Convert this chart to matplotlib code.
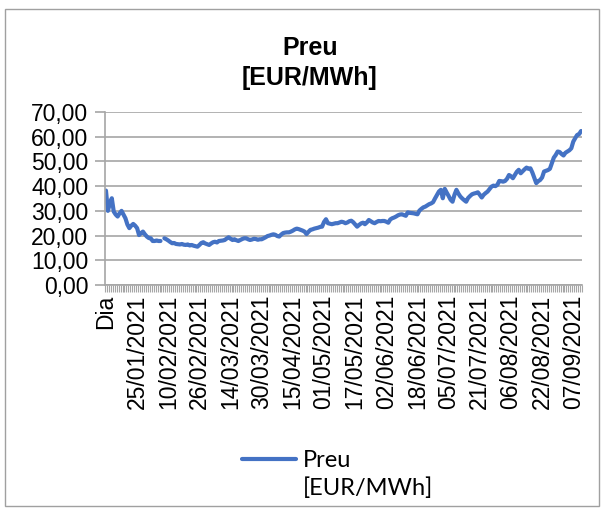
import matplotlib
matplotlib.use("Agg")
import matplotlib.pyplot as plt
from matplotlib.lines import Line2D
from matplotlib.patches import Rectangle
from matplotlib.ticker import FuncFormatter, FixedLocator
import numpy as np
import pandas as pd

# categories: header cell "Dia" followed by daily dates (one day missing in late June)
dates = pd.date_range("2021-01-10", "2021-09-11", freq="D")
dates = dates[dates != pd.Timestamp("2021-06-27")]
categories = ["Dia"] + [d.strftime("%d/%m/%Y") for d in dates]

# daily price [EUR/MWh] (nan = missing day)
preu = [
    38.2, 30.0, 33.0, 35.1, 29.7, 28.5, 27.7, 29.0, 30.0, 28.5,
    27.0, 24.5, 23.0, 24.0, 24.7, 24.0, 23.0, 20.2, 21.0, 21.6,
    20.5, 19.6, 19.0, 18.9, 17.8, 17.8, 18.0, 17.8, 17.8, np.nan,
    18.9, 18.5, 18.0, 17.4, 16.9, 17.0, 16.6, 16.5, 16.4, 16.6,
    16.3, 16.2, 16.4, 16.0, 16.2, 15.9, 15.7, 15.5, 16.2, 17.0,
    17.3, 16.8, 16.5, 16.2, 16.8, 17.3, 17.5, 17.2, 17.8, 17.9,
    18.0, 18.2, 18.8, 19.3, 18.7, 18.2, 18.5, 18.1, 17.8, 18.2,
    18.6, 18.9, 18.9, 18.5, 18.2, 18.4, 18.7, 18.6, 18.3, 18.5,
    18.5, 18.9, 19.3, 19.8, 20.0, 20.3, 20.5, 20.3, 19.8, 19.6,
    20.4, 21.0, 21.2, 21.3, 21.3, 21.6, 22.0, 22.5, 22.8, 22.6,
    22.3, 22.0, 21.6, 20.6, 21.5, 22.3, 22.5, 22.8, 23.0, 23.2,
    23.5, 23.6, 25.5, 26.6, 25.0, 24.8, 24.6, 24.8, 25.0, 25.0,
    25.3, 25.6, 25.4, 25.0, 25.3, 25.8, 26.0, 25.4, 24.5, 23.6,
    24.3, 24.9, 25.2, 24.6, 25.3, 26.3, 25.8, 25.3, 25.0, 25.5,
    25.9, 25.8, 25.9, 25.9, 25.6, 25.2, 26.5, 27.0, 27.3, 27.7,
    28.2, 28.5, 28.6, 28.3, 28.0, 29.4, 29.2, 29.1, 29.0, 28.8,
    28.6, 30.1, 30.8, 31.4, 31.7, 32.2, 32.7, 33.0, 33.5, 35.0,
    36.4, 37.8, 38.5, 35.1, 38.9, 37.4, 36.0, 34.5, 33.7, 36.5,
    38.5, 37.0, 35.8, 35.0, 34.3, 33.7, 35.2, 36.0, 36.7, 37.0,
    37.2, 37.5, 36.5, 35.4, 36.5, 37.2, 37.8, 38.8, 39.8, 40.2,
    40.0, 40.5, 42.1, 42.0, 41.8, 42.1, 43.0, 44.5, 44.0, 43.2,
    44.5, 45.8, 46.6, 45.2, 46.0, 46.8, 47.5, 47.0, 47.2, 45.5,
    43.4, 41.2, 42.0, 42.5, 43.5, 45.9, 46.2, 46.5, 47.0, 49.3,
    51.5, 52.6, 54.0, 53.8, 53.0, 52.4, 53.5, 54.0, 54.5, 55.3,
    58.0, 59.4, 60.7, 61.0, 62.3,
]

y_ticks = [0, 10, 20, 30, 40, 50, 60, 70]
label_step = 16

plt.rcParams['font.family'] = ['Liberation Sans', 'DejaVu Sans']
grey = '#a6a6a6'

fig = plt.figure(figsize=(6.03, 5.09), dpi=100)
ax = fig.add_axes([0.1741, 0.4401, 0.7911, 0.3399])

x = np.arange(len(categories))
line, = ax.plot(x, preu, color='#4472c4', linewidth=3.0, solid_capstyle='round',
                solid_joinstyle='round')

ax.set_xlim(-0.5, len(categories) - 0.5)
ax.set_ylim(0, 70)

ax.set_yticks(y_ticks)
ax.yaxis.set_major_formatter(FuncFormatter(lambda v, p: f"{v:.2f}".replace('.', ',')))
ax.grid(axis='y', color=grey, linewidth=1.2)
ax.set_axisbelow(True)

# labels every 16 categories, tick marks at every category boundary
ax.set_xticks(x[::label_step])
ax.set_xticklabels(categories[::label_step], rotation=90, fontsize=16.5)
ax.xaxis.set_minor_locator(FixedLocator(np.arange(len(categories) + 1) - 0.5))
ax.tick_params(axis='x', which='major', length=0, pad=7)
ax.tick_params(axis='x', which='minor', length=5, color=grey, width=0.8)
ax.tick_params(axis='y', length=7, color=grey, width=1.2, labelsize=16.5, pad=5)

for s in ['top', 'right']:
    ax.spines[s].set_visible(False)
for s in ['left', 'bottom']:
    ax.spines[s].set_color(grey)
    ax.spines[s].set_linewidth(1.2)

fig.text(0.514, 0.905, "Preu", ha='center', va='center', fontsize=18, fontweight='bold')
fig.text(0.514, 0.846, "[EUR/MWh]", ha='center', va='center', fontsize=18, fontweight='bold')

blank = Line2D([], [], linestyle='none')
fig.legend([line, blank], ["Preu", "[EUR/MWh]"], loc='center',
           bbox_to_anchor=(0.56, 0.068), frameon=False, handlelength=2.3,
           handletextpad=0.3, labelspacing=0.25,
           prop={'family': ['Lato', 'DejaVu Sans'], 'size': 17})

fig.patches.append(Rectangle((5 / 603, 3 / 509), 594 / 603, 497 / 509,
                             transform=fig.transFigure, fill=False,
                             edgecolor='#a0a0a0', linewidth=1))

fig.savefig("out.png", dpi=100)
